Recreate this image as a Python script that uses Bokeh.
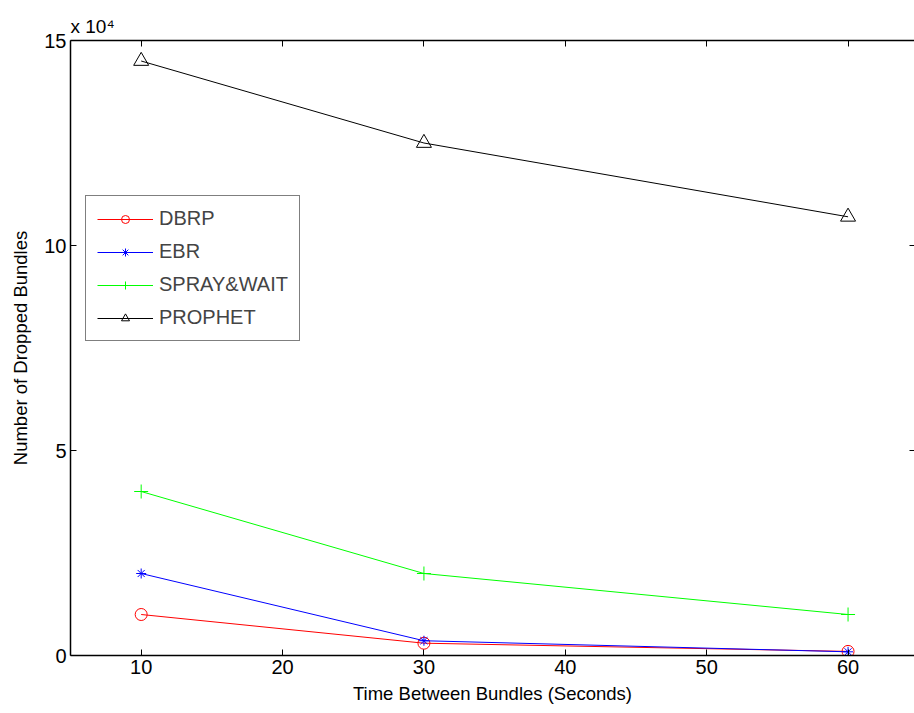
from bokeh.plotting import figure
from bokeh.models import FixedTicker, LinearAxis, Range1d, Legend, LegendItem
from bokeh.embed import file_html
from bokeh.resources import INLINE

x = [10, 30, 60]
dbrp = [10000, 3000, 1000]
ebr = [20000, 3600, 900]
spray = [40000, 20000, 10000]
prophet = [145000, 125000, 107000]
x_ticks = [10, 20, 30, 40, 50, 60]
y_ticks = [0, 50000, 100000, 150000]
y_tick_labels = ["0", "5", "10", "15"]
scale_text = "x 10\u2074"

FONT = "Liberation Sans"

p = figure(width=914, height=713, output_backend="svg", toolbar_location=None,
           x_range=Range1d(5, 64.7), y_range=Range1d(0, 150000),
           min_border_left=70, min_border_right=0, min_border_top=40, min_border_bottom=58,
           title=scale_text)
p.outline_line_color = None
p.xgrid.visible = False
p.ygrid.visible = False
p.background_fill_color = "white"
p.border_fill_color = "white"

p.title.text_font = FONT
p.title.text_font_size = "19px"
p.title.text_font_style = "normal"
p.title.text_color = "black"
p.title.align = "left"
p.title.offset = 0
p.title.standoff = 7

for ax in (p.xaxis[0], p.yaxis[0]):
    ax.axis_line_color = "black"
    ax.axis_line_width = 1.5
    ax.major_tick_in = 6
    ax.major_tick_out = 0
    ax.minor_tick_line_color = None
    ax.major_label_text_font = FONT
    ax.major_label_text_font_size = "20px"
    ax.major_label_text_color = "black"
    ax.axis_label_text_font = FONT
    ax.axis_label_text_font_size = "18.5px"
    ax.axis_label_text_font_style = "normal"
    ax.axis_label_text_color = "black"

p.xaxis.ticker = FixedTicker(ticks=x_ticks)
p.yaxis.ticker = FixedTicker(ticks=y_ticks)
p.yaxis.major_label_overrides = {t: l for t, l in zip(y_ticks, y_tick_labels)}
p.xaxis.axis_label = "Time Between Bundles (Seconds)"
p.yaxis.axis_label = "Number of Dropped Bundles"
p.xaxis.axis_label_standoff = 6
p.yaxis.axis_label_standoff = 10
p.xaxis.major_label_standoff = 4
p.yaxis.major_label_standoff = 4

top = LinearAxis(ticker=FixedTicker(ticks=x_ticks), major_label_text_font_size="0px",
                 major_tick_in=6, major_tick_out=0, minor_tick_line_color=None,
                 axis_line_width=1.5)
top.major_label_text_color = None
p.add_layout(top, "above")
right = LinearAxis(ticker=FixedTicker(ticks=y_ticks), major_label_text_font_size="0px",
                   major_tick_in=5, major_tick_out=0, minor_tick_line_color=None,
                   axis_line_color=None)
right.major_label_text_color = None
p.add_layout(right, "right")

r1 = p.line(x, dbrp, line_color="#ff0000", line_width=1)
m1 = p.scatter(x, dbrp, marker="circle", size=12, line_color="#ff0000", fill_color=None)
r2 = p.line(x, ebr, line_color="#0000ff", line_width=1)
m2 = p.scatter(x, ebr, marker="asterisk", size=10, line_color="#0000ff")
r3 = p.line(x, spray, line_color="#00ff00", line_width=1)
m3 = p.scatter(x, spray, marker="cross", size=14, line_color="#00ff00")
r4 = p.line(x, prophet, line_color="black", line_width=1)
m4 = p.scatter(x, prophet, marker="triangle", size=15, line_color="black", fill_color=None)

legend = Legend(items=[
    LegendItem(label="DBRP", renderers=[r1, m1]),
    LegendItem(label="EBR", renderers=[r2, m2]),
    LegendItem(label="SPRAY&WAIT", renderers=[r3, m3]),
    LegendItem(label="PROPHET", renderers=[r4, m4]),
], location=(15, 314))
legend.label_text_font = FONT
legend.label_text_font_size = "20px"
legend.glyph_width = 56
legend.glyph_height = 20
legend.label_height = 20
legend.spacing = 10
legend.padding = 11
legend.margin = 0
legend.label_standoff = 6
legend.border_line_color = "black"
legend.border_line_width = 1
legend.background_fill_alpha = 1
p.add_layout(legend, "center")

open("out.html", "w").write(file_html(p, INLINE))
